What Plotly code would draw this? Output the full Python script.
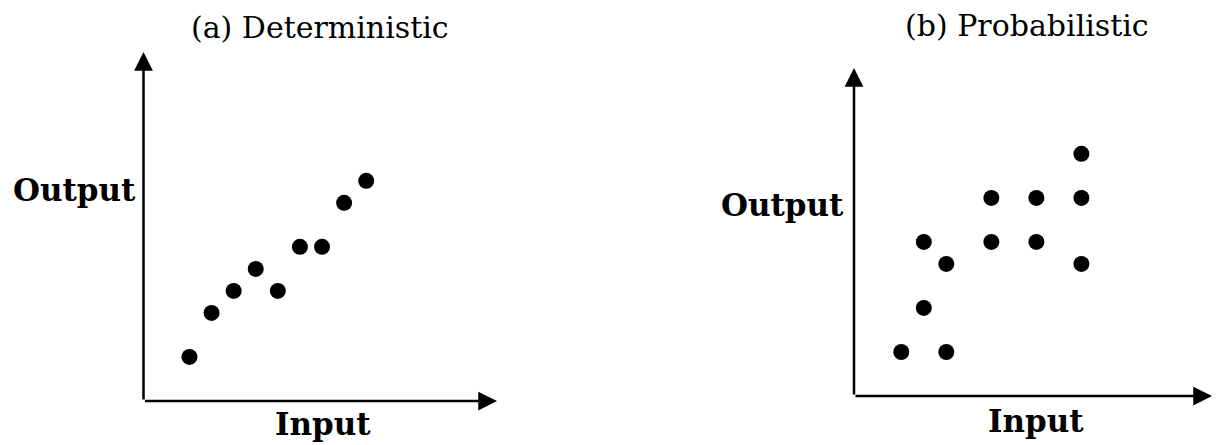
import plotly.graph_objects as go

# Panel (a) Deterministic
det_x = [2, 3, 4, 5, 6, 7, 8, 9, 10]
det_y = [2, 4, 5, 6, 5, 7, 7, 9, 10]

# Panel (b) Probabilistic
prob_x = [2, 3, 3, 4, 4, 6, 6, 8, 8, 10, 10, 10]
prob_y = [2, 4, 7, 2, 6, 9, 7, 9, 7, 11, 9, 6]

titles = ["(a) Deterministic", "(b) Probabilistic"]
x_label = "Input"
y_label = "Output"

W, H = 1220, 445
FONT = "DejaVu Serif"

fig = go.Figure()
fig.add_trace(go.Scatter(x=det_x, y=det_y, mode="markers", xaxis="x", yaxis="y",
                         marker=dict(color="black", size=16), cliponaxis=False,
                         showlegend=False, hoverinfo="skip"))
fig.add_trace(go.Scatter(x=prob_x, y=prob_y, mode="markers", xaxis="x2", yaxis="y2",
                         marker=dict(color="black", size=16), cliponaxis=False,
                         showlegend=False, hoverinfo="skip"))

ax_common = dict(showgrid=False, zeroline=False, showline=False, showticklabels=False,
                 ticks="", fixedrange=True)

# axis frames (pixel layout -> paper fractions); x0/y0 = axis range start
L = dict(x0=143.5, x1=497, y0=401, y1=52, xmin=-0.08, xr=15.92, ymin=0, yr=15.85)
R = dict(x0=854, x1=1212, y0=396, y1=68, xmin=-0.1, xr=15.8, ymin=0, yr=14.9)

fig.update_layout(
    width=W, height=H,
    margin=dict(l=0, r=0, t=0, b=0),
    paper_bgcolor="white", plot_bgcolor="white",
    xaxis=dict(domain=[L["x0"] / W, L["x1"] / W], range=[L["xmin"], L["xr"]], **ax_common),
    yaxis=dict(domain=[(H - L["y0"]) / H, (H - L["y1"]) / H], range=[L["ymin"], L["yr"]], **ax_common),
    xaxis2=dict(domain=[R["x0"] / W, R["x1"] / W], range=[R["xmin"], R["xr"]], anchor="y2", **ax_common),
    yaxis2=dict(domain=[(H - R["y0"]) / H, (H - R["y1"]) / H], range=[R["ymin"], R["yr"]], anchor="x2", **ax_common),
)

anns = []
for xa, ya, P in (("x", "y", L), ("x2", "y2", R)):
    # horizontal arrow
    anns.append(dict(x=P["xr"], y=P["ymin"], ax=P["xmin"], ay=P["ymin"], xref=xa, yref=ya,
                     axref=xa, ayref=ya, showarrow=True, arrowhead=2, arrowsize=1.5,
                     arrowwidth=2.5, arrowcolor="black", text="", standoff=0, startstandoff=0))
    # vertical arrow
    anns.append(dict(x=P["xmin"], y=P["yr"], ax=P["xmin"], ay=P["ymin"], xref=xa, yref=ya,
                     axref=xa, ayref=ya, showarrow=True, arrowhead=2, arrowsize=1.5,
                     arrowwidth=2.5, arrowcolor="black", text="", standoff=0, startstandoff=0))

def txt(text, px, py, size, bold=False):
    return dict(text=f"<b>{text}</b>" if bold else text, x=px / W, y=(H - py) / H,
                xref="paper", yref="paper", showarrow=False,
                xanchor="center", yanchor="middle",
                font=dict(family=FONT, size=size, color="black"))

anns.append(txt(titles[0], 320, 28, 30))
anns.append(txt(titles[1], 1027, 25, 30))
anns.append(txt(y_label, 74, 190, 31, bold=True))
anns.append(txt(y_label, 782, 205, 31, bold=True))
anns.append(txt(x_label, 323, 424, 31, bold=True))
anns.append(txt(x_label, 1036, 421, 31, bold=True))

fig.update_layout(annotations=anns)
fig.write_html("out.html", config={"displayModeBar": False, "staticPlot": True},
               post_script="document.body.style.margin='0px';document.body.style.overflow='hidden';")
